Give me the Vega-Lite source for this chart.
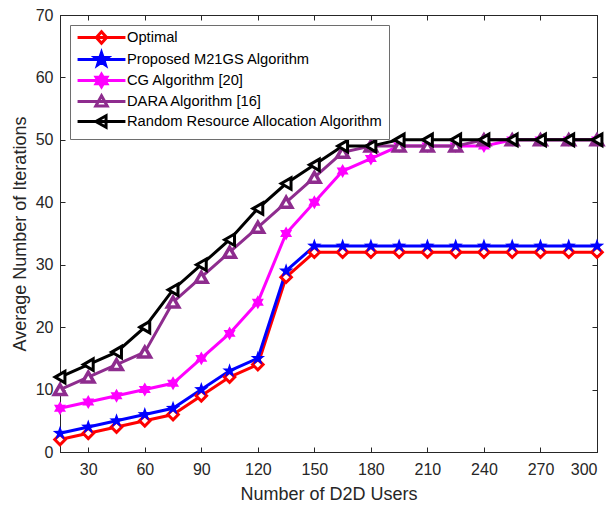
{
  "$schema": "https://vega.github.io/schema/vega-lite/v6.json",
  "autosize": "none",
  "width": 537,
  "height": 437,
  "padding": {"left": 60, "top": 15, "right": 13, "bottom": 56},
  "background": "white",
  "view": {"stroke": "#262626", "strokeWidth": 1},
  "config": {"font": "Liberation Sans"},
  "datasets": {
    "d": [
      {"users": 15, "series": "Optimal", "iters": 2}, {"users": 30, "series": "Optimal", "iters": 3}, {"users": 45, "series": "Optimal", "iters": 4}, {"users": 60, "series": "Optimal", "iters": 5}, {"users": 75, "series": "Optimal", "iters": 6}, {"users": 90, "series": "Optimal", "iters": 9}, {"users": 105, "series": "Optimal", "iters": 12}, {"users": 120, "series": "Optimal", "iters": 14}, {"users": 135, "series": "Optimal", "iters": 28}, {"users": 150, "series": "Optimal", "iters": 32}, {"users": 165, "series": "Optimal", "iters": 32}, {"users": 180, "series": "Optimal", "iters": 32}, {"users": 195, "series": "Optimal", "iters": 32}, {"users": 210, "series": "Optimal", "iters": 32}, {"users": 225, "series": "Optimal", "iters": 32}, {"users": 240, "series": "Optimal", "iters": 32}, {"users": 255, "series": "Optimal", "iters": 32}, {"users": 270, "series": "Optimal", "iters": 32}, {"users": 285, "series": "Optimal", "iters": 32}, {"users": 300, "series": "Optimal", "iters": 32},
      {"users": 15, "series": "Proposed M21GS Algorithm", "iters": 3}, {"users": 30, "series": "Proposed M21GS Algorithm", "iters": 4}, {"users": 45, "series": "Proposed M21GS Algorithm", "iters": 5}, {"users": 60, "series": "Proposed M21GS Algorithm", "iters": 6}, {"users": 75, "series": "Proposed M21GS Algorithm", "iters": 7}, {"users": 90, "series": "Proposed M21GS Algorithm", "iters": 10}, {"users": 105, "series": "Proposed M21GS Algorithm", "iters": 13}, {"users": 120, "series": "Proposed M21GS Algorithm", "iters": 15}, {"users": 135, "series": "Proposed M21GS Algorithm", "iters": 29}, {"users": 150, "series": "Proposed M21GS Algorithm", "iters": 33}, {"users": 165, "series": "Proposed M21GS Algorithm", "iters": 33}, {"users": 180, "series": "Proposed M21GS Algorithm", "iters": 33}, {"users": 195, "series": "Proposed M21GS Algorithm", "iters": 33}, {"users": 210, "series": "Proposed M21GS Algorithm", "iters": 33}, {"users": 225, "series": "Proposed M21GS Algorithm", "iters": 33}, {"users": 240, "series": "Proposed M21GS Algorithm", "iters": 33}, {"users": 255, "series": "Proposed M21GS Algorithm", "iters": 33}, {"users": 270, "series": "Proposed M21GS Algorithm", "iters": 33}, {"users": 285, "series": "Proposed M21GS Algorithm", "iters": 33}, {"users": 300, "series": "Proposed M21GS Algorithm", "iters": 33},
      {"users": 15, "series": "CG Algorithm [20]", "iters": 7}, {"users": 30, "series": "CG Algorithm [20]", "iters": 8}, {"users": 45, "series": "CG Algorithm [20]", "iters": 9}, {"users": 60, "series": "CG Algorithm [20]", "iters": 10}, {"users": 75, "series": "CG Algorithm [20]", "iters": 11}, {"users": 90, "series": "CG Algorithm [20]", "iters": 15}, {"users": 105, "series": "CG Algorithm [20]", "iters": 19}, {"users": 120, "series": "CG Algorithm [20]", "iters": 24}, {"users": 135, "series": "CG Algorithm [20]", "iters": 35}, {"users": 150, "series": "CG Algorithm [20]", "iters": 40}, {"users": 165, "series": "CG Algorithm [20]", "iters": 45}, {"users": 180, "series": "CG Algorithm [20]", "iters": 47}, {"users": 195, "series": "CG Algorithm [20]", "iters": 49}, {"users": 210, "series": "CG Algorithm [20]", "iters": 49}, {"users": 225, "series": "CG Algorithm [20]", "iters": 49}, {"users": 240, "series": "CG Algorithm [20]", "iters": 49}, {"users": 255, "series": "CG Algorithm [20]", "iters": 50}, {"users": 270, "series": "CG Algorithm [20]", "iters": 50}, {"users": 285, "series": "CG Algorithm [20]", "iters": 50}, {"users": 300, "series": "CG Algorithm [20]", "iters": 50},
      {"users": 15, "series": "DARA Algorithm [16]", "iters": 10}, {"users": 30, "series": "DARA Algorithm [16]", "iters": 12}, {"users": 45, "series": "DARA Algorithm [16]", "iters": 14}, {"users": 60, "series": "DARA Algorithm [16]", "iters": 16}, {"users": 75, "series": "DARA Algorithm [16]", "iters": 24}, {"users": 90, "series": "DARA Algorithm [16]", "iters": 28}, {"users": 105, "series": "DARA Algorithm [16]", "iters": 32}, {"users": 120, "series": "DARA Algorithm [16]", "iters": 36}, {"users": 135, "series": "DARA Algorithm [16]", "iters": 40}, {"users": 150, "series": "DARA Algorithm [16]", "iters": 44}, {"users": 165, "series": "DARA Algorithm [16]", "iters": 48}, {"users": 180, "series": "DARA Algorithm [16]", "iters": 49}, {"users": 195, "series": "DARA Algorithm [16]", "iters": 49}, {"users": 210, "series": "DARA Algorithm [16]", "iters": 49}, {"users": 225, "series": "DARA Algorithm [16]", "iters": 49}, {"users": 240, "series": "DARA Algorithm [16]", "iters": 50}, {"users": 255, "series": "DARA Algorithm [16]", "iters": 50}, {"users": 270, "series": "DARA Algorithm [16]", "iters": 50}, {"users": 285, "series": "DARA Algorithm [16]", "iters": 50}, {"users": 300, "series": "DARA Algorithm [16]", "iters": 50},
      {"users": 15, "series": "Random Resource Allocation Algorithm", "iters": 12}, {"users": 30, "series": "Random Resource Allocation Algorithm", "iters": 14}, {"users": 45, "series": "Random Resource Allocation Algorithm", "iters": 16}, {"users": 60, "series": "Random Resource Allocation Algorithm", "iters": 20}, {"users": 75, "series": "Random Resource Allocation Algorithm", "iters": 26}, {"users": 90, "series": "Random Resource Allocation Algorithm", "iters": 30}, {"users": 105, "series": "Random Resource Allocation Algorithm", "iters": 34}, {"users": 120, "series": "Random Resource Allocation Algorithm", "iters": 39}, {"users": 135, "series": "Random Resource Allocation Algorithm", "iters": 43}, {"users": 150, "series": "Random Resource Allocation Algorithm", "iters": 46}, {"users": 165, "series": "Random Resource Allocation Algorithm", "iters": 49}, {"users": 180, "series": "Random Resource Allocation Algorithm", "iters": 49}, {"users": 195, "series": "Random Resource Allocation Algorithm", "iters": 50}, {"users": 210, "series": "Random Resource Allocation Algorithm", "iters": 50}, {"users": 225, "series": "Random Resource Allocation Algorithm", "iters": 50}, {"users": 240, "series": "Random Resource Allocation Algorithm", "iters": 50}, {"users": 255, "series": "Random Resource Allocation Algorithm", "iters": 50}, {"users": 270, "series": "Random Resource Allocation Algorithm", "iters": 50}, {"users": 285, "series": "Random Resource Allocation Algorithm", "iters": 50}, {"users": 300, "series": "Random Resource Allocation Algorithm", "iters": 50}
    ]
  },
  "data": {"name": "d"},
  "resolve": {"axis": {"x": "independent", "y": "independent"}},
  "encoding": {
    "x": {"field": "users", "type": "quantitative", "scale": {"domain": [15, 300], "nice": false, "zero": false}},
    "y": {"field": "iters", "type": "quantitative", "scale": {"domain": [0, 70], "nice": false}}
  },
  "layer": [
    {
      "mark": {"type": "line", "strokeWidth": 3},
      "encoding": {
        "x": {"field": "users", "type": "quantitative", "axis": {"orient": "bottom", "values": [30, 60, 90, 120, 150, 180, 210, 240, 270, 300], "title": "Number of D2D Users", "titleFontSize": 18, "titleFontWeight": "normal", "titleColor": "#262626", "titlePadding": 8, "labelFontSize": 16, "labelColor": "#262626", "tickSize": -5, "tickColor": "#262626", "domainColor": "#262626", "labelPadding": 14, "grid": false}},
        "y": {"field": "iters", "type": "quantitative", "axis": {"orient": "left", "values": [0, 10, 20, 30, 40, 50, 60, 70], "title": "Average Number of Iterations", "titleFontSize": 18, "titleFontWeight": "normal", "titleColor": "#262626", "titlePadding": 6, "labelFontSize": 16, "labelColor": "#262626", "tickSize": -5, "tickColor": "#262626", "domainColor": "#262626", "labelPadding": 12, "grid": false}},
        "color": {"field": "series", "type": "nominal", "sort": null, "scale": {"domain": ["Optimal", "Proposed M21GS Algorithm", "CG Algorithm [20]", "DARA Algorithm [16]", "Random Resource Allocation Algorithm"], "range": ["#ff0000", "#0000ff", "#ff00ff", "#8e2c8e", "#000000"]},
          "legend": {"title": null, "orient": "top-left", "offset": 10, "direction": "vertical", "labelFontSize": 14.7, "labelLimit": 0, "labelColor": "#000000", "strokeColor": "#6e6e6e", "fillColor": "white", "padding": 5, "rowPadding": -4, "symbolSize": 130, "symbolType": "circle", "symbolStrokeWidth": 3, "symbolOffset": 19, "labelOffset": 18,
            "encode": {"symbols": {"update": {
              "shape": {"signal": "datum.value === 'Optimal' ? 'M-4.2,0L4.2,0M0,-1L0.9,0L0,1L-0.9,0Z' : datum.value === 'Proposed M21GS Algorithm' ? 'M-4.2,0L4.2,0M0,-1.2L0.28,-0.39L1.14,-0.37L0.46,0.15L0.71,0.97L0,0.48L-0.71,0.97L-0.46,0.15L-1.14,-0.37L-0.28,-0.39Z' : datum.value === 'CG Algorithm [20]' ? 'M-4.2,0L4.2,0M0,-1.1L0.32,-0.55L0.95,-0.55L0.63,0L0.95,0.55L0.32,0.55L0,1.1L-0.32,0.55L-0.95,0.55L-0.63,0L-0.95,-0.55L-0.32,-0.55Z' : datum.value === 'DARA Algorithm [16]' ? 'M-4.2,0L4.2,0M0,-1L1,0.8L-1,0.8Z' : 'M-4.2,0L4.2,0M-1,0L0.8,-1L0.8,1Z'"},
              "fill": {"signal": "datum.value === 'Proposed M21GS Algorithm' ? '#0000ff' : datum.value === 'CG Algorithm [20]' ? '#ff00ff' : '#ffffff'"},
              "fillOpacity": {"value": 1},
              "strokeWidth": {"value": 3}
            }}}
          }
        },
        "order": {"field": "users", "type": "quantitative"}
      }
    },
    {
      "transform": [{"filter": "datum.series === 'Optimal'"}],
      "mark": {"type": "point", "shape": "diamond", "filled": false, "fill": "#ffffff", "stroke": "#ff0000", "strokeWidth": 3, "size": 110, "opacity": 1},
      "encoding": {
        "x": {"field": "users", "type": "quantitative", "axis": {"orient": "top", "values": [30, 60, 90, 120, 150, 180, 210, 240, 270, 300], "title": null, "labels": false, "tickSize": -5, "tickColor": "#262626", "domainColor": "#262626", "grid": false}},
        "y": {"field": "iters", "type": "quantitative", "axis": {"orient": "right", "values": [0, 10, 20, 30, 40, 50, 60, 70], "title": null, "labels": false, "tickSize": -5, "tickColor": "#262626", "domainColor": "#262626", "grid": false}}
      }
    },
    {
      "transform": [{"filter": "datum.series === 'Proposed M21GS Algorithm'"}],
      "mark": {"type": "point", "shape": "M0,-1.2L0.28,-0.39L1.14,-0.37L0.46,0.15L0.71,0.97L0,0.48L-0.71,0.97L-0.46,0.15L-1.14,-0.37L-0.28,-0.39Z", "filled": true, "color": "#0000ff", "size": 160, "opacity": 1},
      "encoding": {"x": {"field": "users", "type": "quantitative", "axis": null}, "y": {"field": "iters", "type": "quantitative", "axis": null}}
    },
    {
      "transform": [{"filter": "datum.series === 'CG Algorithm [20]'"}],
      "mark": {"type": "point", "shape": "M0,-1.1L0.32,-0.55L0.95,-0.55L0.63,0L0.95,0.55L0.32,0.55L0,1.1L-0.32,0.55L-0.95,0.55L-0.63,0L-0.95,-0.55L-0.32,-0.55Z", "filled": true, "color": "#ff00ff", "size": 160, "opacity": 1},
      "encoding": {"x": {"field": "users", "type": "quantitative", "axis": null}, "y": {"field": "iters", "type": "quantitative", "axis": null}}
    },
    {
      "transform": [{"filter": "datum.series === 'DARA Algorithm [16]'"}],
      "mark": {"type": "point", "shape": "triangle-up", "filled": false, "fill": "#ffffff", "stroke": "#8e2c8e", "strokeWidth": 3.5, "size": 130, "opacity": 1},
      "encoding": {"x": {"field": "users", "type": "quantitative", "axis": null}, "y": {"field": "iters", "type": "quantitative", "axis": null}}
    },
    {
      "transform": [{"filter": "datum.series === 'Random Resource Allocation Algorithm'"}],
      "mark": {"type": "point", "shape": "triangle-left", "filled": false, "fill": "#ffffff", "stroke": "#000000", "strokeWidth": 3, "size": 130, "opacity": 1},
      "encoding": {"x": {"field": "users", "type": "quantitative", "axis": null}, "y": {"field": "iters", "type": "quantitative", "axis": null}}
    }
  ]
}
